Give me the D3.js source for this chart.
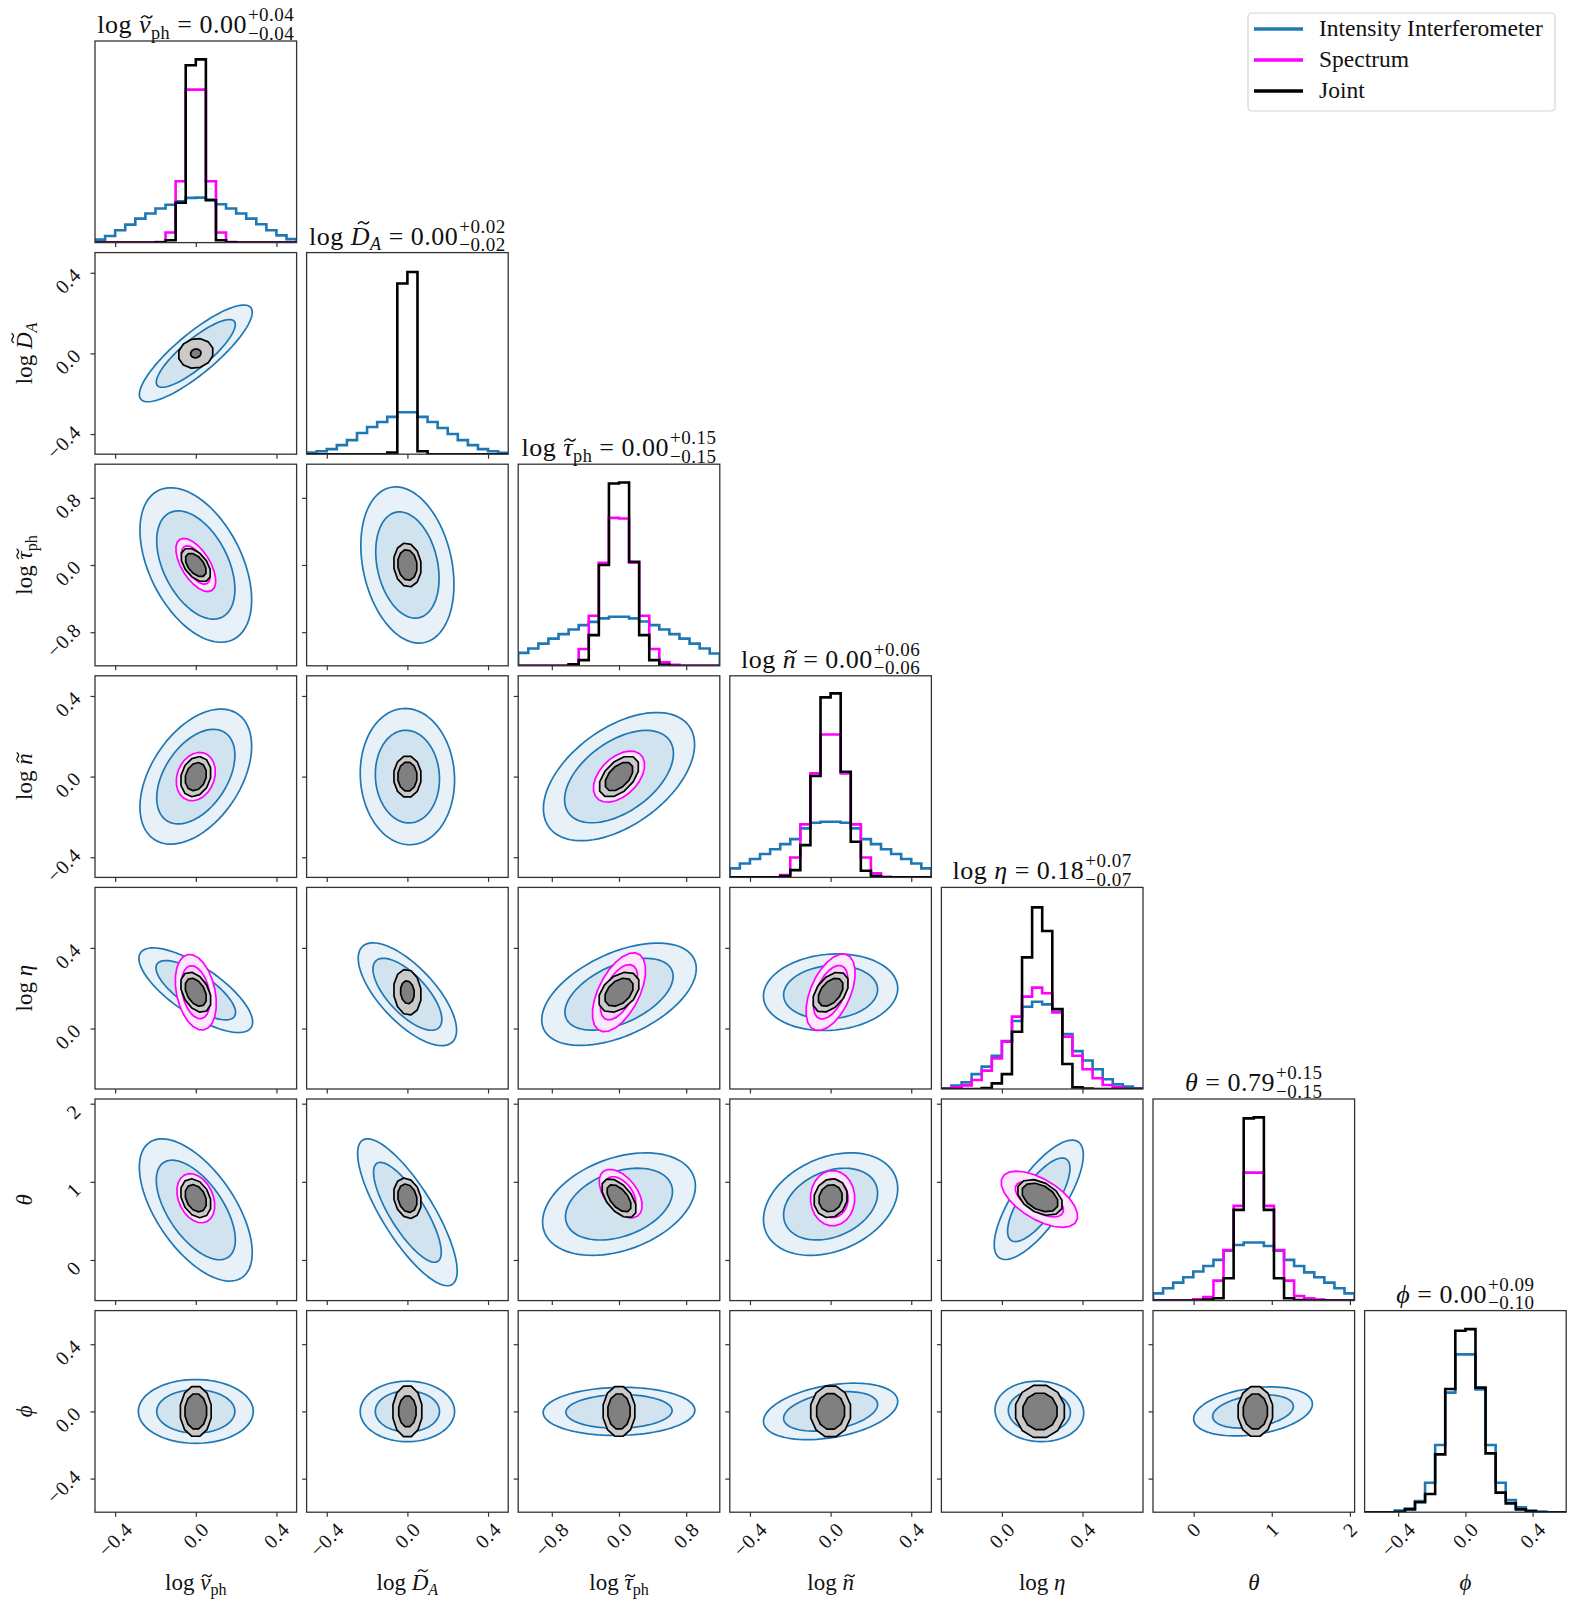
<!DOCTYPE html>
<html><head><meta charset="utf-8">
<script src="https://cdn.jsdelivr.net/npm/d3@7"></script>
<style>
body{margin:0;background:#fff}
svg{display:block}
text{font-family:"Liberation Serif","DejaVu Serif",serif;fill:#111}
</style>
</head><body>
<svg id="c" width="1577" height="1608"></svg>
<script>
// ---------------- DATA ----------------
const paramKeys    = ["v","DA","tau","n","eta","theta","phi"];
const paramDomains = [[-0.5,0.5],[-0.5,0.5],[-1.2,1.2],[-0.5,0.5],[-0.3,0.7],[-0.52,2.06],[-0.6,0.6]];
const paramTicks   = [[-0.4,0,0.4],[-0.4,0,0.4],[-0.8,0,0.8],[-0.4,0,0.4],[0,0.4],[0,1,2],[-0.4,0,0.4]];
const tickLabels   = [["−0.4","0.0","0.4"],["−0.4","0.0","0.4"],["−0.8","0.0","0.8"],["−0.4","0.0","0.4"],["0.0","0.4"],["0","1","2"],["−0.4","0.0","0.4"]];

const labelPrefix   = ["log ","log ","log ","log ","log ","",""];
const labelSymbol   = ["v","D","τ","n","η","θ","ϕ"];
const labelTilde    = [true,true,true,true,false,false,false];
const labelUpper    = [false,true,false,false,false,false,false];
const labelSub      = ["ph","A","ph","","","",""];
const labelSubItal  = [false,true,false,false,false,false,false];

const titleValues = ["0.00","0.00","0.00","0.00","0.18","0.79","0.00"];
const titlePlus   = ["+0.04","+0.02","+0.15","+0.06","+0.07","+0.15","+0.09"];
const titleMinus  = ["−0.04","−0.02","−0.15","−0.06","−0.07","−0.15","−0.10"];

const seriesNames      = ["Intensity Interferometer","Spectrum","Joint"];
const seriesColors     = ["#1f77b4","#ff00ff","#000000"];
const seriesFillOuter  = ["#e9f1f8","#fde8fd","#cacaca"];
const seriesFillInner  = ["#d2e3f0","#fbd3fb","#808080"];
const seriesVertices   = [90, 24, 12];

// 1D histograms (20 bins over each parameter range), heights in % of panel height
const iiHist_v     = [1.5,3.3,6.1,8.9,11.9,14.4,16.9,18.8,20.5,22.2,22.3,21.3,19.0,16.9,14.4,11.9,9.1,6.1,3.6,1.7];
const specHist_v   = [0,0,0,0,0,0,0.3,5.0,30.4,75.9,75.9,30.4,5.0,0.3,0,0,0,0,0,0];
const jointHist_v  = [0,0,0,0,0,0,0.2,1.2,19.8,88.0,90.9,21.0,1.2,0.2,0,0,0,0,0,0];

const iiHist_DA    = [0.8,1.5,2.5,4.5,7.0,10.5,13.5,16.0,18.5,20.8,20.8,18.5,16.0,13.0,10.0,7.0,4.5,2.5,1.5,0.7];
const jointHist_DA = [0,0,0,0,0,0,0,0,0.8,84.7,90.4,1.5,0,0,0,0,0,0,0,0];

const iiHist_tau    = [6.4,8.6,11.0,13.5,15.7,18.0,20.2,21.8,23.5,24.3,24.3,23.5,22.0,20.2,18.0,15.7,13.5,11.0,8.6,6.1];
const specHist_tau  = [0,0,0,0,0,0.5,8.3,24.8,51.1,73.4,73.1,51.1,24.8,8.3,1.7,0.5,0,0,0,0];
const jointHist_tau = [0,0,0,0,0,0.7,2.8,15.2,50.0,90.4,90.9,51.6,15.2,2.8,0.5,0,0,0,0,0];

const iiHist_n    = [4.5,6.9,9.1,11.6,14.0,16.5,19.0,24.3,27.1,27.6,27.6,27.1,24.3,19.0,16.5,14.0,11.6,9.1,6.9,4.5];
const specHist_n  = [0,0,0,0,0,1.2,9.9,26.3,51.6,70.9,70.9,51.6,26.3,9.9,2.0,0.3,0,0,0,0];
const jointHist_n = [0,0,0,0,0,0.7,3.6,16.0,50.3,89.3,91.3,52.4,17.7,3.3,0.7,0,0,0,0,0];

const iiHist_eta    = [0.3,1.7,3.3,7.4,11.1,16.5,23.8,33.7,40.8,43.3,42.0,39.5,27.3,18.8,14.1,9.8,4.8,2.3,1.2,0.3];
const specHist_eta  = [0,0.8,1.8,4.5,9.1,15.2,23.5,35.9,45.8,50.3,47.5,38.0,26.0,16.5,9.8,5.3,2.0,0.8,0,0];
const jointHist_eta = [0,0,0,0,0.5,2.8,7.4,28.4,65.3,90.1,78.4,39.7,12.4,0.8,0.2,0,0,0,0,0];

const iiHist_theta    = [3.6,6.1,8.9,11.6,14.4,17.2,20.2,24.8,27.6,28.8,28.8,27.1,24.8,20.2,17.2,14.0,11.6,8.9,6.1,3.6];
const specHist_theta  = [0,0,0,0,0.7,1.7,9.9,25.1,47.0,63.5,63.5,47.0,25.1,9.9,2.3,1.2,0.5,0,0,0];
const jointHist_theta = [0,0,0,0,0,0.5,1.2,11.1,45.0,90.4,90.9,45.0,11.1,1.2,0.3,0,0,0,0,0];

const iiHist_phi    = [0,0,0,0.8,1.8,5.5,14.6,33.3,59.3,78.3,78.3,60.9,33.3,14.6,6.0,2.4,0.8,0.3,0,0];
const jointHist_phi = [0,0,0,0.2,1.4,4.9,9.0,28.7,61.1,90.0,90.8,61.8,29.2,9.7,4.4,1.4,0.4,0,0,0];

const iiHists    = [iiHist_v, iiHist_DA, iiHist_tau, iiHist_n, iiHist_eta, iiHist_theta, iiHist_phi];
const specHists  = [specHist_v, null, specHist_tau, specHist_n, specHist_eta, specHist_theta, null];
const jointHists = [jointHist_v, jointHist_DA, jointHist_tau, jointHist_n, jointHist_eta, jointHist_theta, jointHist_phi];

// 2D credible contours: [row(y-param), col(x-param), cx, cy, halfX, halfY, rho, innerRatio]
const iiContours = [
  [1,0, 0,0, 0.28,0.24, 0.85,0.70],
  [2,0, 0,0, 0.277,0.92, -0.45,0.70],
  [2,1, 0,0, 0.231,0.93, -0.25,0.68],
  [3,0, 0,0, 0.277,0.335, 0.45,0.70],
  [3,1, 0,0, 0.234,0.338, -0.05,0.68],
  [3,2, 0,0, 0.90,0.318, 0.50,0.72],
  [4,0, 0,0.19, 0.282,0.21, -0.75,0.70],
  [4,1, 0,0.17, 0.244,0.255, -0.70,0.70],
  [4,2, 0,0.17, 0.92,0.254, 0.50,0.70],
  [4,3, 0,0.18, 0.333,0.19, 0.10,0.70],
  [5,0, 0,0.64, 0.28,0.91, -0.60,0.70],
  [5,1, 0,0.61, 0.247,0.94, -0.80,0.68],
  [5,2, 0,0.715, 0.91,0.656, 0.35,0.70],
  [5,3, 0,0.715, 0.333,0.656, 0.30,0.70],
  [5,4, 0.183,0.77, 0.221,0.764, 0.75,0.70],
  [6,0, 0,0, 0.285,0.19, 0.0,0.68],
  [6,1, 0,0, 0.234,0.18, 0.0,0.68],
  [6,2, 0,0, 0.903,0.143, 0.05,0.70],
  [6,3, 0,0, 0.333,0.168, 0.35,0.70],
  [6,4, 0.186,0, 0.22,0.18, -0.05,0.70],
  [6,5, 0.76,0, 0.76,0.146, 0.30,0.68]
];
const specContours = [
  [2,0, 0,0, 0.099,0.317, -0.60,0.72],
  [3,0, 0,0, 0.097,0.12, 0.20,0.70],
  [3,2, 0,0, 0.305,0.127, 0.45,0.70],
  [4,0, 0,0.18, 0.102,0.188, -0.30,0.70],
  [4,2, 0,0.18, 0.317,0.196, 0.55,0.70],
  [4,3, 0,0.18, 0.122,0.19, 0.50,0.70],
  [5,0, 0,0.79, 0.094,0.315, -0.30,0.70],
  [5,2, 0.02,0.85, 0.256,0.31, -0.50,0.70],
  [5,3, 0.01,0.79, 0.11,0.354, 0.0,0.70],
  [5,4, 0.186,0.777, 0.19,0.36, -0.60,0.63]
];
const jointContours = [
  [1,0, 0,0, 0.087,0.074, 0.10,0.30],
  [2,0, 0,0, 0.074,0.20, -0.50,0.70],
  [2,1, 0,0, 0.069,0.262, -0.10,0.70],
  [3,0, 0,0, 0.076,0.10, 0.20,0.70],
  [3,1, 0,0, 0.069,0.104, 0.0,0.70],
  [3,2, 0,0, 0.238,0.102, 0.50,0.70],
  [4,0, 0,0.18, 0.076,0.10, -0.40,0.70],
  [4,1, 0,0.18, 0.069,0.114, -0.10,0.50],
  [4,2, 0,0.18, 0.244,0.10, 0.40,0.70],
  [4,3, 0,0.18, 0.089,0.10, 0.45,0.70],
  [5,0, 0,0.79, 0.076,0.25, -0.30,0.70],
  [5,1, 0,0.79, 0.069,0.26, -0.20,0.70],
  [5,2, 0,0.79, 0.207,0.25, -0.55,0.70],
  [5,3, 0,0.79, 0.084,0.25, 0.10,0.70],
  [5,4, 0.189,0.80, 0.113,0.23, -0.40,0.80],
  [6,0, 0,0, 0.079,0.153, 0.0,0.70],
  [6,1, 0,0, 0.074,0.156, 0.0,0.60],
  [6,2, 0,0, 0.195,0.153, 0.0,0.70],
  [6,3, 0,0, 0.102,0.156, 0.0,0.70],
  [6,4, 0.189,0, 0.125,0.16, 0.0,0.70],
  [6,5, 0.79,0, 0.228,0.153, 0.0,0.70]
];
const allContours = [iiContours, specContours, jointContours];

// ---------------- LAYOUT ----------------
const N = 7, PANEL = 201.6, PITCH = 211.6, X0 = 95, Y0 = 41;
const colLeft = c => X0 + c*PITCH;
const rowTop  = r => Y0 + r*PITCH;
const xScales = paramDomains.map((d,i)=>d3.scaleLinear().domain(d).range([colLeft(i), colLeft(i)+PANEL]));
const yScales = paramDomains.map((d,i)=>d3.scaleLinear().domain(d).range([rowTop(i)+PANEL, rowTop(i)]));
const hScales = d3.range(N).map(i=>d3.scaleLinear().domain([0,100]).range([rowTop(i)+PANEL, rowTop(i)]));

const svg = d3.select("#c");
const defs = svg.append("defs");
for (let r=0;r<N;r++) for (let c=0;c<=r;c++) {
  defs.append("clipPath").attr("id",`clip-${r}-${c}`)
    .append("rect").attr("x",colLeft(c)).attr("y",rowTop(r)).attr("width",PANEL).attr("height",PANEL);
}

// ---------------- HISTOGRAMS ----------------
function stepPath(i, h){
  const xs = xScales[i], ys = hScales[i];
  const [d0,d1] = paramDomains[i];
  const edges = d3.range(h.length+1).map(k=>d0 + k*(d1-d0)/h.length);
  const pts = [[xs(edges[0]), ys(0)]];
  h.forEach((v,k)=>{ pts.push([xs(edges[k]), ys(v)]); pts.push([xs(edges[k+1]), ys(v)]); });
  pts.push([xs(edges[h.length]), ys(0)]);
  return d3.line()(pts);
}
const histSets = [iiHists, specHists, jointHists];
for (let i=0;i<N;i++){
  const g = svg.append("g").attr("clip-path",`url(#clip-${i}-${i})`);
  histSets.forEach((set,s)=>{
    if (!set[i]) return;
    g.append("path").attr("d", stepPath(i,set[i])).attr("fill","none")
      .attr("stroke", seriesColors[s]).attr("stroke-width",2.6).attr("stroke-linejoin","miter");
  });
}

// ---------------- 2D CONTOURS ----------------
function ellipsePath(xs, ys, e, rad, nv){
  const [cx,cy,ax,ay,rho] = e;
  const s = Math.sqrt(1-rho*rho);
  const pts = d3.range(nv).map(k=>{
    const t = (k+0.5)/nv*2*Math.PI;
    return [xs(cx + rad*ax*Math.cos(t)), ys(cy + rad*ay*(rho*Math.cos(t) + s*Math.sin(t)))];
  });
  return d3.line().curve(d3.curveLinearClosed)(pts);
}
allContours.forEach((list,s)=>{
  const nv = seriesVertices[s];
  list.forEach(row=>{
    const [r,c,cx,cy,ax,ay,rho,k] = row;
    const xs = xScales[c], ys = yScales[r];
    const e = [cx,cy,ax,ay,rho];
    const g = svg.append("g").attr("clip-path",`url(#clip-${r}-${c})`);
    g.append("path").attr("d", ellipsePath(xs,ys,e,1,nv)).attr("fill", seriesFillOuter[s]).attr("stroke","none");
    g.append("path").attr("d", ellipsePath(xs,ys,e,k,nv)).attr("fill", seriesFillInner[s]).attr("stroke","none");
    g.append("path").attr("d", ellipsePath(xs,ys,e,1,nv)).attr("fill","none").attr("stroke",seriesColors[s]).attr("stroke-width",1.7).attr("stroke-linejoin","round");
    g.append("path").attr("d", ellipsePath(xs,ys,e,k,nv)).attr("fill","none").attr("stroke",seriesColors[s]).attr("stroke-width",1.7).attr("stroke-linejoin","round");
  });
});

// ---------------- FRAMES, TICKS ----------------
const frameColor = "#333";
for (let r=0;r<N;r++) for (let c=0;c<=r;c++) {
  svg.append("rect").attr("x",colLeft(c)).attr("y",rowTop(r)).attr("width",PANEL).attr("height",PANEL)
    .attr("fill","none").attr("stroke",frameColor).attr("stroke-width",1.3);
  const xAxis = d3.axisBottom(xScales[c]).tickValues(paramTicks[c]).tickSize(4.5).tickFormat("");
  const gx = svg.append("g").attr("transform",`translate(0,${rowTop(r)+PANEL})`).call(xAxis);
  gx.select(".domain").remove();
  gx.selectAll("line").attr("stroke",frameColor).attr("stroke-width",1.2);
  if (c<r) {
    const yAxis = d3.axisLeft(yScales[r]).tickValues(paramTicks[r]).tickSize(4.5).tickFormat("");
    const gy = svg.append("g").attr("transform",`translate(${colLeft(c)},0)`).call(yAxis);
    gy.select(".domain").remove();
    gy.selectAll("line").attr("stroke",frameColor).attr("stroke-width",1.2);
  }
}

// ---------------- TICK LABELS ----------------
const TICK_FS = 20;
function rotatedLabel(str){
  const g = svg.append("g");
  g.append("text").attr("font-size",TICK_FS).attr("text-anchor","end").attr("letter-spacing",0.5)
    .attr("transform","rotate(-45)").text(str);
  return g;
}
for (let c=0;c<N;c++){
  paramTicks[c].forEach((t,j)=>{
    const g = rotatedLabel(tickLabels[c][j]);
    const bb = g.node().getBBox();
    const tx = xScales[c](t), top = rowTop(N-1)+PANEL+6;
    g.attr("transform",`translate(${tx-(bb.x+bb.width/2)},${top-bb.y})`);
  });
}
for (let r=1;r<N;r++){
  paramTicks[r].forEach((t,j)=>{
    const g = rotatedLabel(tickLabels[r][j]);
    const bb = g.node().getBBox();
    const ty = yScales[r](t) + 8, right = X0 - 10;
    g.attr("transform",`translate(${right-(bb.x+bb.width)},${ty-(bb.y+bb.height/2)})`);
  });
}

// ---------------- RICH LABELS ----------------
// text is drawn with baseline at local y=0 inside group g; tilde drawn as a small path
function addSymbol(text, i, fs){
  if (labelPrefix[i]) text.append("tspan").text(labelPrefix[i]);
  text.append("tspan").attr("font-style","italic").text(labelSymbol[i]);
  if (labelSub[i]) {
    const dy = fs*0.22;
    text.append("tspan").attr("font-size",fs*0.7).attr("dy",dy)
      .attr("font-style",labelSubItal[i]?"italic":"normal").text(labelSub[i]);
    return dy;
  }
  return 0;
}
function addTilde(g, text, i, fs){
  if (!labelTilde[i]) return;
  const k = labelPrefix[i].length;
  const ext = text.node().getExtentOfChar(k);
  const cx = ext.x + ext.width/2 + (labelUpper[i] ? 0.12 : 0.07)*fs;
  const ty = labelUpper[i] ? -0.84*fs : -0.62*fs;
  const hw = 0.2*fs, amp = 0.045*fs;
  const p = d3.path();
  p.moveTo(cx-hw, ty+amp*0.7);
  p.quadraticCurveTo(cx-hw/2, ty-amp*2, cx, ty);
  p.quadraticCurveTo(cx+hw/2, ty+amp*2, cx+hw, ty-amp*0.7);
  g.append("path").attr("d", p.toString()).attr("fill","none").attr("stroke","#111")
    .attr("stroke-width", 0.055*fs).attr("stroke-linecap","round");
}
const AX_FS = 23;
for (let c=0;c<N;c++){
  const g = svg.append("g").attr("transform",`translate(${colLeft(c)+PANEL/2},1590)`);
  const t = g.append("text").attr("font-size",AX_FS).attr("text-anchor","middle").attr("x",0).attr("y",0);
  addSymbol(t,c,AX_FS);
  addTilde(g,t,c,AX_FS);
}
for (let r=1;r<N;r++){
  const g = svg.append("g").attr("transform",`translate(32,${rowTop(r)+PANEL/2}) rotate(-90)`);
  const t = g.append("text").attr("font-size",AX_FS).attr("text-anchor","middle").attr("x",0).attr("y",0);
  addSymbol(t,r,AX_FS);
  addTilde(g,t,r,AX_FS);
}

// ---------------- TITLES ----------------
const TT_FS = 26, TS_FS = 19;
for (let i=0;i<N;i++){
  const g = svg.append("g");
  const t = g.append("text").attr("font-size",TT_FS).attr("letter-spacing",0.5).attr("x",0).attr("y",0);
  const back = addSymbol(t,i,TT_FS);
  t.append("tspan").attr("dy",-back).text(" = " + titleValues[i]);
  const w = t.node().getComputedTextLength();
  addTilde(g,t,i,TT_FS);
  const sp = g.append("text").attr("font-size",TS_FS).attr("letter-spacing",0.5).attr("x",w+1).attr("y",-12).text(titlePlus[i]);
  const sb = g.append("text").attr("font-size",TS_FS).attr("letter-spacing",0.5).attr("x",w+1).attr("y",6.5).text(titleMinus[i]);
  const total = w + 1 + Math.max(sp.node().getComputedTextLength(), sb.node().getComputedTextLength());
  g.attr("transform",`translate(${colLeft(i)+PANEL/2-total/2},${rowTop(i)-8})`);
}

// ---------------- LEGEND ----------------
const lg = svg.append("g");
lg.append("rect").attr("x",1248).attr("y",13).attr("width",307).attr("height",98).attr("rx",4)
  .attr("fill","#fff").attr("stroke","#d4d4d4").attr("stroke-width",1.2);
seriesNames.forEach((name,s)=>{
  const y = 29 + s*31;
  lg.append("line").attr("x1",1254).attr("x2",1303).attr("y1",y).attr("y2",y)
    .attr("stroke",seriesColors[s]).attr("stroke-width",3.4);
  lg.append("text").attr("x",1319).attr("y",y+7).attr("font-size",23.5).text(name);
});
</script>
</body></html>
